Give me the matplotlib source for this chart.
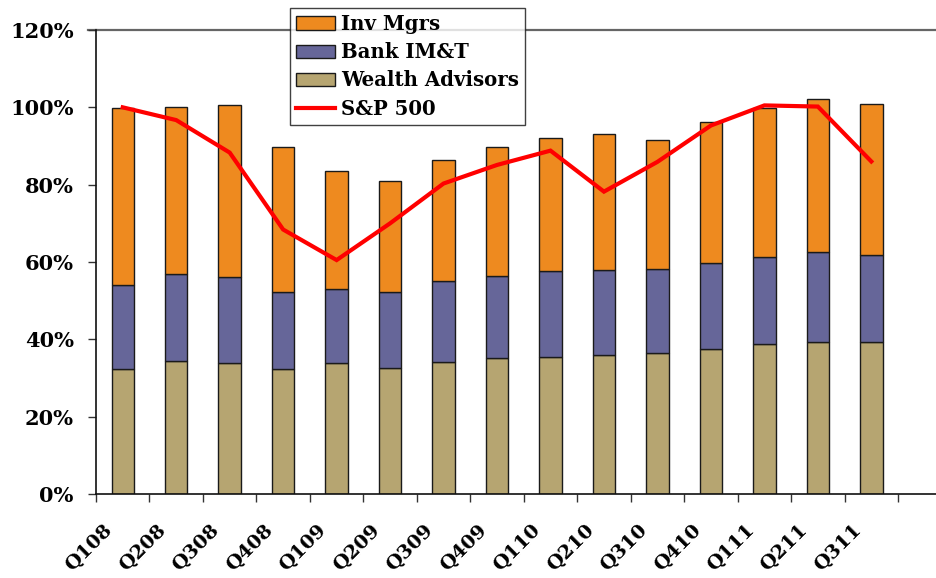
import matplotlib
matplotlib.use("Agg")
import matplotlib.pyplot as plt
import matplotlib.transforms as mtransforms
import numpy as np
from matplotlib.patches import Patch
from matplotlib.lines import Line2D

# Quarterly shares (percent) by segment, plus S&P 500 index level (percent)
quarters = ["Q108", "Q208", "Q308", "Q408", "Q109", "Q209", "Q309", "Q409",
            "Q110", "Q210", "Q310", "Q410", "Q111", "Q211", "Q311"]
wealth_advisors = [32.2, 34.5, 33.9, 32.2, 33.8, 32.6, 34.2, 35.3,
                   35.5, 35.9, 36.4, 37.4, 38.8, 39.4, 39.4]
bank_imt = [21.8, 22.4, 22.1, 20.0, 19.2, 19.6, 20.8, 21.1,
            22.2, 22.0, 21.9, 22.3, 22.4, 23.1, 22.5]
inv_mgrs = [45.7, 43.3, 44.5, 37.6, 30.6, 28.7, 31.5, 33.4,
            34.4, 35.2, 33.2, 36.4, 38.7, 39.6, 38.9]
sp500 = [100.0, 96.7, 88.3, 68.4, 60.5, 70.0, 80.3, 85.1,
         88.8, 78.2, 85.9, 95.3, 100.5, 100.2, 86.0]
y_ticks = [0, 20, 40, 60, 80, 100, 120]

C_WEALTH = "#B6A571"
C_BANK = "#666699"
C_INV = "#EE8A1F"
C_SP = "#FF0000"

FONT = dict(family="DejaVu Serif", weight="bold")

fig = plt.figure(figsize=(9.37, 5.78), dpi=100)
W, H = 937, 578
x0, x1 = 96, 937
y0, y1 = 494, 30
ax = fig.add_axes([x0 / W, (H - y0) / H, (x1 - x0) / W, (y0 - y1) / H])

x = np.arange(len(quarters))
bw = 0.42
ekw = dict(edgecolor="#1a1a1a", linewidth=1.0)
ax.bar(x, wealth_advisors, bw, color=C_WEALTH, **ekw, zorder=2)
ax.bar(x, bank_imt, bw, bottom=wealth_advisors, color=C_BANK, **ekw, zorder=2)
base2 = np.array(wealth_advisors) + np.array(bank_imt)
ax.bar(x, inv_mgrs, bw, bottom=base2, color=C_INV, **ekw, zorder=2)
ax.plot(x, sp500, color=C_SP, lw=3.0, zorder=3, solid_joinstyle="miter")

slot = 53.47
ax.set_xlim(-0.5, -0.5 + (x1 - x0) / slot)
ax.set_ylim(0, 120)

# y axis
ax.set_yticks(y_ticks)
ax.set_yticklabels([f"{v}%" for v in y_ticks], fontsize=15, **FONT)
ax.tick_params(axis="y", direction="out", length=6, width=1.0, color="#333333", pad=10)
ax.axhline(120, color="#666666", lw=1.6, zorder=1, clip_on=False)
ax.plot([-0.5 - 8 / slot, -0.5], [120, 120], color="#666666", lw=1.6,
        clip_on=False, zorder=1)

# x axis: tick marks between categories, labels at centres
ax.set_xticks(np.arange(-0.5, len(quarters)), minor=True)
ax.set_xticks(x)
ax.set_xticklabels(quarters, rotation=45, ha="right", va="center",
                   rotation_mode="anchor", fontsize=14, **FONT)
ax.tick_params(axis="x", which="major", length=0, pad=24)
ax.tick_params(axis="x", which="minor", direction="out", length=6, width=1.0,
               color="#333333")
shift = mtransforms.ScaledTranslation(-13 / 100, 0, fig.dpi_scale_trans)
for lbl in ax.get_xticklabels():
    lbl.set_transform(lbl.get_transform() + shift)

for s in ["top", "right"]:
    ax.spines[s].set_visible(False)
ax.spines["left"].set_color("#111111")
ax.spines["bottom"].set_color("#111111")
ax.spines["left"].set_linewidth(1.2)
ax.spines["bottom"].set_linewidth(1.2)

handles = [Patch(facecolor=C_INV, edgecolor="#1a1a1a", lw=1.0),
           Patch(facecolor=C_BANK, edgecolor="#1a1a1a", lw=1.0),
           Patch(facecolor=C_WEALTH, edgecolor="#1a1a1a", lw=1.0),
           Line2D([0], [0], color=C_SP, lw=3.0)]
labels = ["Inv Mgrs", "Bank IM&T", "Wealth Advisors", "S&P 500"]
leg = fig.legend(handles, labels, loc="upper left",
                 bbox_to_anchor=(290 / W, 1 - 8 / H),
                 prop=dict(family="DejaVu Serif", weight="bold", size=14.2),
                 frameon=True, fancybox=False, shadow=False,
                 borderpad=0.3, labelspacing=0.42, handlelength=2.0,
                 handleheight=0.65, handletextpad=0.3, borderaxespad=0)
leg.get_frame().set_edgecolor("#111111")
leg.get_frame().set_linewidth(1.0)
leg.set_zorder(5)

fig.savefig("out.png", dpi=100)
